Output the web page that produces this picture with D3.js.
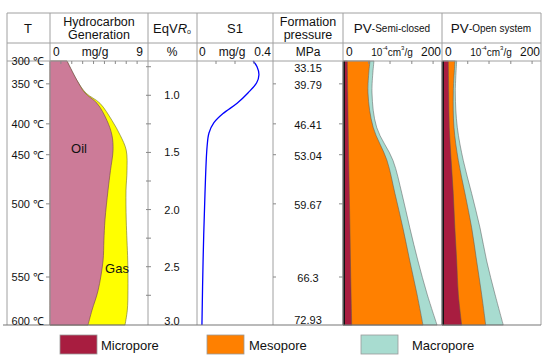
<!DOCTYPE html>
<html>
<head>
<meta charset="utf-8">
<script src="https://cdn.jsdelivr.net/npm/d3@7/dist/d3.min.js"></script>
<style>
  html, body { margin: 0; padding: 0; background: #fff; }
  svg { display: block; }
</style>
</head>
<body>
<div id="chart"></div>
<script>
// ── data ──────────────────────────────────────────────────────────────────
// vertical axis is EqVRo (%); temperatures / pressures are read at Ro levels
var temps      = ['300 ℃', '350 ℃', '400 ℃', '450 ℃', '500 ℃', '550 ℃', '600 ℃'];
var tempRo     = [0.70, 0.90, 1.25, 1.52, 1.95, 2.59, 3.01];
var pressures  = ['33.15', '39.79', '46.41', '53.04', '59.67', '66.3', '72.93'];
var roLabels   = [1.0, 1.5, 2.0, 2.5, 3.0];
var roMinor    = [0.75, 1.25, 1.75, 2.25, 2.75];

// hydrocarbon generation (mg/g), oil and oil+gas
var hcRo       = [0.70, 0.87, 0.98, 1.07, 1.22, 1.35, 1.48, 1.66, 1.83, 2.09, 2.27, 2.45, 2.71, 2.88, 3.01];
var oil        = [1.56, 2.48, 3.21, 4.32, 5.23, 5.69, 5.79, 5.55, 5.33, 5.05, 4.95, 4.87, 4.41, 3.86, 3.49];
var oilGas     = [1.56, 2.48, 3.30, 4.59, 5.69, 6.45, 7.00, 7.07, 6.98, 7.00, 7.07, 7.14, 7.16, 7.10, 6.89];

// S1 (mg/g)
var s1Ro       = [0.70, 0.75, 0.82, 0.89, 0.98, 1.07, 1.16, 1.24, 1.33, 1.45, 1.86, 2.45, 3.01];
var s1         = [0.295, 0.316, 0.326, 0.314, 0.268, 0.211, 0.137, 0.089, 0.063, 0.053, 0.042, 0.032, 0.026];

// pore volume (10^-4 cm3/g), cumulative micro / micro+meso / micro+meso+macro
var pvRo       = [0.70, 0.98, 1.28, 1.57, 1.86, 2.16, 2.45, 2.74, 3.01];
var semiMicro  = [8.7, 9.5, 10.5, 11.5, 12.7, 14, 15, 16.3, 17.6];
var semiMeso   = [54.5, 50.5, 61, 88.9, 105, 121, 135, 149.5, 161.6];
var semiMacro  = [62.6, 58.6, 68, 101, 119, 135, 151.5, 170, 190];
var openMicro  = [12.7, 13.5, 14.7, 18.5, 22.8, 26, 29.7, 33, 39.8];
var openMeso   = [26.3, 22.8, 24.2, 33, 46.5, 60, 70, 80, 88.3];
var openMacro  = [29.7, 26.9, 30.9, 43, 60, 76.8, 90.3, 107, 123.8];

var legendNames = ['Micropore', 'Mesopore', 'Macropore'];

(function () {
    var W = 550, H = 363;
    var font = '"Liberation Sans", Arial, sans-serif';
    var c = {
        grid:  '#a0a0a0',
        text:  '#111',
        oil:   '#cc7b98',
        gas:   '#ffff00',
        s1:    '#0000ff',
        micro: '#a81d40',
        meso:  '#ff8000',
        macro: '#a8dcd0',
    };

    // ── geometry ─────────────────────────────────────────────────────────
    var top = 13, hdrY = 43, dataTop = 61, dataBot = 325;
    var colX = [7, 50, 148, 197, 273, 343, 442, 541];

    var y     = d3.scaleLinear().domain([0.70, 3.01]).range([dataTop, dataBot]);
    var xHC   = d3.scaleLinear().domain([0, 9]).range([colX[1], colX[2]]);
    var xS1   = d3.scaleLinear().domain([0, 0.4]).range([colX[3], colX[4]]);
    var xSemi = d3.scaleLinear().domain([0, 200]).range([colX[5], colX[6]]);
    var xOpen = d3.scaleLinear().domain([0, 200]).range([colX[6], colX[7]]);

    var svg = d3.select('#chart').append('svg')
        .attr('width', W).attr('height', H)
        .attr('font-family', font);

    function txt(x, yy, s, size, anchor) {
        return svg.append('text')
            .attr('x', x).attr('y', yy)
            .attr('text-anchor', anchor || 'middle')
            .attr('dominant-baseline', 'central')
            .attr('font-size', size + 'px')
            .attr('fill', c.text)
            .text(s);
    }

    // ── hydrocarbon generation areas ─────────────────────────────────────
    var hcIdx = d3.range(hcRo.length);
    var gasArea = d3.area().curve(d3.curveCatmullRom)
        .y(function (i) { return y(hcRo[i]); })
        .x0(xHC(0)).x1(function (i) { return xHC(oilGas[i]); });
    var oilArea = d3.area().curve(d3.curveCatmullRom)
        .y(function (i) { return y(hcRo[i]); })
        .x0(xHC(0)).x1(function (i) { return xHC(oil[i]); });
    svg.append('path').attr('d', gasArea(hcIdx))
        .attr('fill', c.gas).attr('stroke', '#6b6b30').attr('stroke-width', 0.6);
    svg.append('path').attr('d', oilArea(hcIdx))
        .attr('fill', c.oil).attr('stroke', '#6e4050').attr('stroke-width', 0.6);
    txt(79, 148, 'Oil', 13);
    txt(117, 268, 'Gas', 13);

    // ── S1 curve ─────────────────────────────────────────────────────────
    var s1Line = d3.line().curve(d3.curveCatmullRom)
        .y(function (d, i) { return y(s1Ro[i]); })
        .x(function (d) { return xS1(d); });
    svg.append('path').attr('d', s1Line(s1))
        .attr('fill', 'none').attr('stroke', c.s1).attr('stroke-width', 1.3);

    // ── pore volume stacks ───────────────────────────────────────────────
    function pvStack(xs, micro, meso, macro) {
        var idx = d3.range(pvRo.length);
        [[macro, c.macro], [meso, c.meso], [micro, c.micro]].forEach(function (s) {
            var a = d3.area().curve(d3.curveCatmullRom)
                .y(function (i) { return y(pvRo[i]); })
                .x0(xs(0)).x1(function (i) { return xs(s[0][i]); });
            svg.append('path').attr('d', a(idx))
                .attr('fill', s[1]).attr('stroke', '#555').attr('stroke-width', 0.5);
        });
        svg.append('line')
            .attr('x1', xs(0) + 1).attr('x2', xs(0) + 1)
            .attr('y1', dataTop).attr('y2', dataBot)
            .attr('stroke', '#111').attr('stroke-width', 2);
    }
    pvStack(xSemi, semiMicro, semiMeso, semiMacro);
    pvStack(xOpen, openMicro, openMeso, openMacro);

    // ── table grid ───────────────────────────────────────────────────────
    colX.forEach(function (x) {
        svg.append('line').attr('x1', x).attr('x2', x)
            .attr('y1', top).attr('y2', dataBot)
            .attr('stroke', c.grid).attr('stroke-width', 1);
    });
    [top, hdrY, dataTop].forEach(function (yy) {
        svg.append('line').attr('x1', colX[0]).attr('x2', colX[7])
            .attr('y1', yy).attr('y2', yy)
            .attr('stroke', c.grid).attr('stroke-width', 1);
    });
    svg.append('line').attr('x1', 3).attr('x2', colX[7])
        .attr('y1', dataBot).attr('y2', dataBot)
        .attr('stroke', '#777').attr('stroke-width', 1.2);

    // ── small ticks ──────────────────────────────────────────────────────
    function tick(x1, y1, x2, y2) {
        svg.append('line').attr('x1', x1).attr('y1', y1).attr('x2', x2).attr('y2', y2)
            .attr('stroke', '#888').attr('stroke-width', 1);
    }
    d3.range(1, 9).forEach(function (v) { tick(xHC(v), dataTop, xHC(v), dataTop + 3); });
    [0.1, 0.2, 0.3].forEach(function (v) { tick(xS1(v), dataTop, xS1(v), dataTop + 3); });
    [52, 95, 139, 182].forEach(function (v) {
        tick(xSemi(v), dataTop, xSemi(v), dataTop + 3);
        tick(xOpen(v), dataTop, xOpen(v), dataTop + 3);
    });
    tempRo.slice(1, -1).forEach(function (r) {
        tick(colX[1] - 4, y(r), colX[1], y(r));
        tick(colX[4], y(r), colX[4] + 3, y(r));
        tick(colX[5] - 4, y(r), colX[5], y(r));
    });
    roLabels.concat(roMinor).forEach(function (r) {
        if (r < 3) tick(colX[2] - 2, y(r), colX[2] + 3, y(r));
    });

    // ── axis labels in columns ───────────────────────────────────────────
    temps.forEach(function (t, i) {
        var yy = y(tempRo[i]);
        if (i === temps.length - 1) yy -= 4;
        txt(44, yy, t, 11, 'end');
    });
    pressures.forEach(function (p, i) {
        var yy = y(tempRo[i]);
        if (i === 0) yy += 6;
        if (i === pressures.length - 1) yy -= 6;
        txt(308, yy + 1, p, 11);
    });
    roLabels.forEach(function (r) {
        var yy = y(r);
        if (r === 3) yy -= 3;
        txt(172, yy, d3.format('.1f')(r), 11);
    });

    // ── header ───────────────────────────────────────────────────────────
    txt(28, 28, 'T', 13);
    txt(99, 21.5, 'Hydrocarbon', 12.5);
    txt(99, 35, 'Generation', 12.5);
    var eq = txt(172, 28, '', 13);
    eq.append('tspan').text('EqV');
    eq.append('tspan').attr('font-style', 'italic').text('R');
    eq.append('tspan').attr('font-size', '7px').attr('dy', 3).text('o');
    txt(235, 28, 'S1', 13);
    txt(308, 21.5, 'Formation', 12.5);
    txt(308, 35, 'pressure', 12.5);
    var pv1 = txt(392, 28, '', 13.5);
    pv1.append('tspan').text('PV');
    pv1.append('tspan').attr('font-size', '10px').text('-Semi-closed');
    var pv2 = txt(491, 28, '', 13.5);
    pv2.append('tspan').text('PV');
    pv2.append('tspan').attr('font-size', '10px').text('-Open system');

    // units row
    var uy = 52;
    txt(53, uy, '0', 12, 'start');
    txt(95, uy, 'mg/g', 12);
    txt(143, uy, '9', 12, 'end');
    txt(172, uy, '%', 12);
    txt(199, uy, '0', 12, 'start');
    txt(232, uy, 'mg/g', 12);
    txt(271, uy, '0.4', 12, 'end');
    txt(308, uy, 'MPa', 12);
    [colX[5], colX[6]].forEach(function (x0) {
        txt(x0 + 3, uy, '0', 12, 'start');
        var u = txt(x0 + 49, uy, '', 10);
        u.append('tspan').text('10');
        u.append('tspan').attr('font-size', '6px').attr('dy', -4).text('-4');
        u.append('tspan').attr('dy', 4).text('cm');
        u.append('tspan').attr('font-size', '6px').attr('dy', -4).text('3');
        u.append('tspan').attr('dy', 4).text('/g');
        txt(x0 + 98, uy, '200', 12, 'end');
    });

    // ── legend ───────────────────────────────────────────────────────────
    var legX = [60, 207, 361], legT = [101, 249, 412];
    var legC = [c.micro, c.meso, c.macro];
    legendNames.forEach(function (n, i) {
        svg.append('rect')
            .attr('x', legX[i]).attr('y', 335)
            .attr('width', 37).attr('height', 19)
            .attr('fill', legC[i]).attr('stroke', '#999').attr('stroke-width', 0.8);
        txt(legT[i], 345, n, 13, 'start');
    });
})();
</script>
</body>
</html>
